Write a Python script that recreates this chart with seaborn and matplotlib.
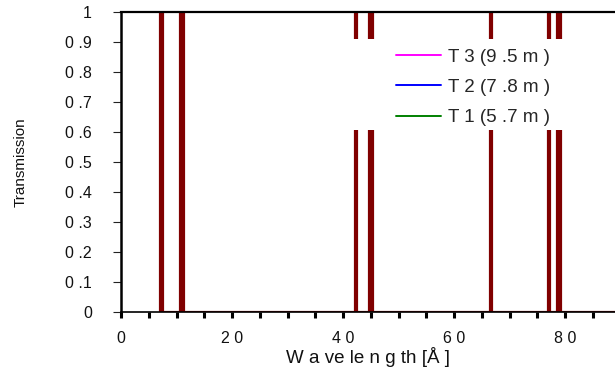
import matplotlib
matplotlib.use("Agg")
import matplotlib.pyplot as plt
import seaborn as sns
from matplotlib.lines import Line2D
from matplotlib.patches import Rectangle
from matplotlib.ticker import MultipleLocator, FixedLocator, FixedFormatter

sns.set_style("white")
plt.rcParams['font.family'] = ['Liberation Sans', 'DejaVu Sans']

# ---- data ----
wavelength = [7.1, 7.1, 7.4, 7.4,
              10.7, 10.7, 11.2, 11.2,
              42.1, 42.1, 42.3, 42.3,
              44.6, 44.6, 45.2, 45.2,
              66.4, 66.4, 66.7, 66.7,
              76.9, 76.9, 77.1, 77.1,
              78.5, 78.5, 79.05, 79.05,
              89.0]
transmission = [0, 1, 1, 0,
                0, 1, 1, 0,
                0, 1, 1, 0,
                0, 1, 1, 0,
                0, 1, 1, 0,
                0, 1, 1, 0,
                0, 1, 1, 0,
                0]

legend_labels = ["T 3 (9 .5 m )", "T 2 (7 .8 m )", "T 1 (5 .7 m )"]
legend_colors = ["#FF00FF", "#0000FF", "#008000"]

x_ticks = [0, 20, 40, 60, 80]
x_ticklabels = ["0", "2 0", "4 0", "6 0", "8 0"]
y_ticks = [0, 0.1, 0.2, 0.3, 0.4, 0.5, 0.6, 0.7, 0.8, 0.9, 1.0]
y_ticklabels = ["0", "0 .1", "0 .2", "0 .3", "0 .4", "0 .5",
                "0 .6", "0 .7", "0 .8", "0 .9", "1"]

W, H = 615, 370
fig = plt.figure(figsize=(W / 100, H / 100), dpi=100)
ax = fig.add_axes([121 / W, 1 - 312 / H, (W - 121) / W, 300 / H])

sns.lineplot(x=wavelength, y=transmission, sort=False, estimator=None,
             color="#800000", linewidth=2.3, ax=ax, zorder=2)
ax.fill_between(wavelength, transmission, 0, color="#800000",
                linewidth=0, zorder=2)

ax.set_xlim(0, 89)
ax.set_ylim(0, 1)

# white legend area
ax.add_patch(Rectangle((40.4, 0.607), 40.2, 0.303, facecolor="white",
                       edgecolor="none", zorder=3))

handles = [Line2D([], [], color=c, lw=1.4) for c in legend_colors]
leg = ax.legend(handles, legend_labels, loc="upper left",
                bbox_to_anchor=(396 / W, 1 - 48.5 / H),
                bbox_transform=fig.transFigure, frameon=False,
                borderpad=0, borderaxespad=0, handlelength=2.4,
                handletextpad=0.4, labelspacing=0.7, fontsize=13.5)
leg.set_zorder(5)

ax.xaxis.set_major_locator(FixedLocator(x_ticks))
ax.xaxis.set_major_formatter(FixedFormatter(x_ticklabels))
ax.xaxis.set_minor_locator(MultipleLocator(5))
ax.yaxis.set_major_locator(FixedLocator(y_ticks))
ax.yaxis.set_major_formatter(FixedFormatter(y_ticklabels))

ax.tick_params(axis="x", which="both", direction="out", length=4,
               width=2.2, color="black", bottom=True, labelsize=11.5,
               pad=10, labelcolor="#111111")
ax.tick_params(axis="y", which="major", direction="out", length=6,
               width=0.8, color="#222222", left=True, labelsize=11.5,
               pad=15, labelcolor="#111111")

for s in ["left", "top", "bottom"]:
    ax.spines[s].set_color("black")
ax.spines["left"].set_linewidth(1.8)
ax.spines["top"].set_linewidth(1.6)
ax.spines["bottom"].set_linewidth(1.2)
ax.spines["right"].set_visible(False)

ax.set_xlabel("W a ve le n g th [Å ]", fontsize=13.5, color="#111111")
ax.xaxis.set_label_coords(0.5, -0.118)
ax.set_ylabel("Transmission", fontsize=11, color="#111111")
ax.yaxis.set_label_coords(-0.19, 0.5)

fig.savefig("out.png", dpi=100)
